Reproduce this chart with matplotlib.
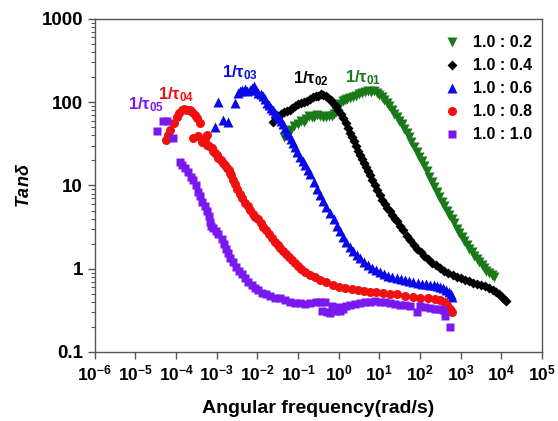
import matplotlib.pyplot as plt
import numpy as np

plt.rcParams['font.family'] = ['Liberation Sans', 'DejaVu Sans']
plt.rcParams['font.weight'] = 'bold'
plt.rcParams['mathtext.fontset'] = 'custom'
plt.rcParams['mathtext.rm'] = 'Liberation Sans:bold'
plt.rcParams['mathtext.bf'] = 'Liberation Sans:bold'
plt.rcParams['mathtext.it'] = 'Liberation Sans:bold:italic'

# 1.0 : 0.2
w1 = [0.045, 0.055, 0.068, 0.08, 0.10, 0.12, 0.14, 0.16, 0.19, 0.22, 0.25, 0.30, 0.35, 0.42,
      0.49, 0.58, 0.69, 0.78, 0.87, 0.97, 1.07, 1.25, 1.44, 1.65, 1.91, 2.3, 2.7, 3.2, 3.8,
      4.5, 5.3, 6.3, 7.4, 8.6, 10, 11.5, 13.2, 15.2, 17.4, 20, 23, 27, 31, 36, 41, 47, 54,
      62, 72, 83, 96, 110, 127, 146, 169, 195, 224, 258, 296, 342, 395, 455, 525, 605, 695,
      800, 925, 1070, 1230, 1420, 1630, 1880, 2150, 2500, 2870, 3300, 3800, 4350, 5000,
      5800, 6700]
t1 = [38, 42, 46, 52, 55, 60, 58, 63, 69, 66, 67, 70, 69, 66,
      67, 68, 69, 73, 77, 88, 95, 102, 107, 110, 113, 116, 119, 125, 129,
      134, 137, 133, 137, 128, 122, 114, 107, 98, 90, 80, 72, 66, 60, 54, 48, 43, 38,
      33, 29, 25, 22, 19.5, 17.2, 14.8, 12.7, 11, 9.6, 8.3, 7.3, 6.4, 5.7, 5.0, 4.4, 3.9, 3.5,
      3.0, 2.7, 2.4, 2.16, 1.93, 1.73, 1.57, 1.43, 1.31, 1.21, 1.11, 1.03, 0.95, 0.89,
      0.84, 0.80]

# 1.0 : 0.4
w2 = [0.024, 0.028, 0.032, 0.038, 0.045, 0.053, 0.063, 0.073, 0.085, 0.10, 0.118, 0.14,
      0.166, 0.195, 0.23, 0.27, 0.31, 0.36, 0.41, 0.48, 0.55, 0.64, 0.73, 0.85, 0.98, 1.13,
      1.29, 1.5, 1.71, 1.9, 2.1, 2.4, 2.7, 3.0, 3.4, 3.8, 4.2, 4.7, 5.3, 5.9, 6.6, 7.7, 8.9,
      10.2, 11.8, 13.6, 15.6, 18, 20.7, 24, 27.5, 33, 39, 48, 58, 70, 86, 105, 127, 160, 199,
      250, 313, 390, 492, 640, 825, 1030, 1300, 1630, 2040, 2550, 3200, 4000, 5000, 6200,
      7600, 9000, 10500, 12000, 13200]
t2 = [58, 64, 69, 73, 77, 79, 81, 86, 90, 94, 98, 101,
      104, 110, 116, 118, 119, 124, 122, 118, 113, 106, 98, 89, 81, 72,
      65, 56, 49, 43, 38, 34, 30, 26, 23, 21, 18.7, 16.8, 15, 13.2, 11.7, 10.2, 8.9,
      7.7, 6.7, 6.0, 5.4, 4.9, 4.4, 4.0, 3.7, 3.3, 2.9, 2.5, 2.2, 1.95, 1.73, 1.57, 1.43, 1.30, 1.18,
      1.10, 1.03, 0.95, 0.89, 0.84, 0.80, 0.77, 0.74, 0.71, 0.68, 0.66, 0.64, 0.62, 0.59, 0.56,
      0.53, 0.49, 0.46, 0.43, 0.41]

# 1.0 : 0.6
w3 = [9.1e-4, 1.07e-3, 1.42e-3, 1.9e-3, 2.8e-3, 3.3e-3, 3.7e-3, 4.3e-3, 4.9e-3, 5.7e-3,
      6.6e-3, 7.4e-3, 8.3e-3, 9.2e-3, 0.0103, 0.012, 0.0138, 0.0155, 0.0174, 0.0195, 0.0215,
      0.024, 0.027, 0.030, 0.034, 0.038, 0.043, 0.048, 0.053, 0.06, 0.067, 0.075, 0.085,
      0.097, 0.11, 0.13, 0.15, 0.175, 0.20, 0.25, 0.30, 0.35, 0.41, 0.5, 0.62, 0.75, 0.92,
      1.1, 1.29, 1.55, 1.91, 2.3, 2.8, 3.4, 4.2, 5.3, 6.6, 8.3, 10.5, 13, 16.5, 21, 27.5, 34,
      43, 54, 68, 88, 113, 140, 178, 220, 265, 315, 372, 450, 525, 580, 620]
t3 = [50, 101, 61, 58, 98, 130, 137, 140, 145, 138,
      141, 150, 157, 140, 129, 125, 119, 108, 98, 92, 86,
      80, 74, 70, 65, 60, 55, 49, 44, 40, 36, 32, 29,
      25, 22, 19.5, 17.7, 15.5, 13.8, 11, 9.1, 7.7, 6.5, 5.5, 4.7, 3.9, 3.3,
      2.8, 2.4, 2.1, 1.83, 1.63, 1.47, 1.33, 1.21, 1.11, 1.03, 0.97, 0.92, 0.87, 0.82, 0.80,
      0.78, 0.76, 0.74, 0.72, 0.70, 0.68, 0.66, 0.65, 0.64, 0.63, 0.62, 0.61, 0.59, 0.56,
      0.53, 0.50, 0.46]

# 1.0 : 0.8
w4 = [5.6e-5, 6.3e-5, 7.1e-5, 8.7e-5, 1.05e-4, 1.2e-4, 1.39e-4, 1.6e-4, 1.85e-4, 2.15e-4,
      2.5e-4, 2.9e-4, 3.3e-4, 3.9e-4, 2.6e-4, 3.4e-4, 5.8e-4, 4.3e-4, 5.0e-4, 5.8e-4, 6.6e-4,
      7.6e-4, 8.3e-4, 9.1e-4, 1.0e-3, 1.07e-3, 1.25e-3, 1.42e-3, 1.6e-3, 1.78e-3, 1.95e-3,
      2.1e-3, 2.3e-3, 2.5e-3, 2.8e-3, 3.2e-3, 3.7e-3, 4.3e-3, 5.0e-3, 5.8e-3, 6.6e-3, 7.6e-3,
      8.9e-3, 0.0103, 0.012, 0.014, 0.016, 0.019, 0.023, 0.027, 0.032, 0.037, 0.042, 0.05,
      0.06, 0.071, 0.085, 0.10, 0.12, 0.15, 0.20, 0.26, 0.35, 0.5, 0.73, 1.0, 1.44, 2.1, 3.0,
      4.2, 5.9, 8.5, 12.3, 18, 27, 42, 68, 100, 158, 230, 316, 400, 470, 550, 620]
t4 = [35, 40, 46, 56, 67, 75, 81, 82, 81, 80,
      77, 71, 65, 56, 37, 39, 40, 33, 36, 31, 30,
      28, 26, 24.6, 23, 21.4, 20, 18.7, 17.4, 16.3, 15.2,
      14.2, 13.2, 11.5, 10.3, 9.1, 7.9, 7.0, 6.2, 5.6, 5.1, 4.6,
      4.2, 3.9, 3.5, 3.2, 2.9, 2.6, 2.35, 2.1, 1.9, 1.75, 1.64, 1.5,
      1.38, 1.28, 1.17, 1.08, 1.0, 0.92, 0.85, 0.79, 0.74, 0.69, 0.64, 0.61, 0.59, 0.57, 0.56,
      0.54, 0.53, 0.52, 0.51, 0.50, 0.49, 0.475, 0.46, 0.45, 0.44, 0.43, 0.42, 0.40, 0.37, 0.33, 0.30]

# 1.0 : 1.0
w5 = [3.4e-5, 4.7e-5, 5.9e-5, 8.3e-5, 1.23e-4, 1.38e-4, 1.65e-4, 1.95e-4, 2.3e-4, 2.6e-4,
      3.0e-4, 3.4e-4, 3.8e-4, 4.3e-4, 5.0e-4, 5.8e-4, 6.3e-4, 6.8e-4, 7.4e-4, 8.1e-4, 9.6e-4,
      1.1e-3, 1.35e-3, 1.5e-3, 1.7e-3, 1.9e-3, 2.1e-3, 2.5e-3, 3.0e-3, 3.5e-3, 4.2e-3, 5.0e-3,
      5.9e-3, 7.2e-3, 8.7e-3, 0.0105, 0.013, 0.016, 0.020, 0.027, 0.036, 0.048, 0.063, 0.085,
      0.11, 0.15, 0.2, 0.27, 0.35, 0.40, 0.45, 0.52, 0.62, 0.7, 0.85, 1.0, 1.07, 1.25, 1.5,
      1.9, 2.5, 3.4, 4.5, 5.9, 8, 10.5, 14, 18.6, 25, 32, 43, 58, 85, 100, 135, 180, 235, 300,
      372, 417, 550]
t5 = [45, 60, 60, 37, 19.2, 17.7, 16, 14.5, 12.8, 11.7,
      10, 8.4, 7.4, 6.4, 5.6, 5.0, 4.3, 3.6, 3.3, 3.1, 2.85,
      2.6, 2.3, 2.0, 1.73, 1.53, 1.35, 1.2, 1.05, 0.95, 0.87, 0.78,
      0.70, 0.64, 0.59, 0.55, 0.51, 0.49, 0.47, 0.45, 0.44, 0.42, 0.40, 0.39,
      0.39, 0.38, 0.39, 0.40, 0.40, 0.31, 0.40, 0.30, 0.29, 0.36, 0.31, 0.35, 0.31, 0.33, 0.36,
      0.37, 0.38, 0.39, 0.40, 0.40, 0.41, 0.40, 0.40, 0.39, 0.38, 0.37, 0.37, 0.36, 0.30, 0.36,
      0.35, 0.34, 0.33, 0.33, 0.32, 0.27, 0.20]

fig = plt.figure(figsize=(5.58, 4.21), dpi=100)
ax = fig.add_axes([0.170, 0.164, 0.801, 0.791])

ax.plot(w1, t1, 'v', color='#1a7a1a', ms=7.5, mec='none', label='1.0 : 0.2')
ax.plot(w2, t2, 'D', color='black', ms=5.5, mec='none', label='1.0 : 0.4')
ax.plot(w3, t3, '^', color='#0a0ae6', ms=7.5, mec='none', label='1.0 : 0.6')
ax.plot(w4, t4, 'o', color='#f01010', ms=6.5, mec='none', label='1.0 : 0.8')
ax.plot(w5, t5, 's', color='#7a18f0', ms=6, mec='none', label='1.0 : 1.0')

ax.set_xscale('log')
ax.set_yscale('log')
ax.set_xlim(1e-6, 1e5)
ax.set_ylim(0.1, 1000)

xt = [10.0**k for k in range(-6, 6)]
ax.set_xticks(xt)
ax.set_xticklabels([r'10$^{%d}$' % k for k in range(-6, 6)])
ax.set_yticks([0.1, 1, 10, 100, 1000])
ax.set_yticklabels(['0.1', '1', '10', '100', '1000'])
ax.tick_params(which='major', direction='out', length=5, width=1, color='#555555')
ax.tick_params(axis='x', which='major', labelsize=12.5)
ax.tick_params(axis='y', which='major', labelsize=13.5)
ax.tick_params(which='minor', direction='out', length=3, width=0.8, color='#555555')
for s in ax.spines.values():
    s.set_color('#555555')
    s.set_linewidth(1)

ax.set_xlabel('Angular frequency(rad/s)', fontsize=14, fontweight='bold', labelpad=12)
ax.set_ylabel(r'Tan$\delta$', fontsize=13, fontweight='bold', style='italic', labelpad=6)

ax.text(6.5e-6, 82, '1/τ$_{05}$', color='#7a18f0', fontsize=12)
ax.text(3.6e-5, 107, '1/τ$_{04}$', color='#f01010', fontsize=12)
ax.text(1.35e-3, 200, '1/τ$_{03}$', color='#0a0ae6', fontsize=12)
ax.text(0.076, 170, '1/τ$_{02}$', color='black', fontsize=12)
ax.text(1.44, 175, '1/τ$_{01}$', color='#1a7a1a', fontsize=12)

ax.legend(loc='upper right', bbox_to_anchor=(1.0, 0.98), frameon=False, fontsize=11.5,
          handletextpad=0.5, labelspacing=0.5, borderaxespad=0.2, handlelength=1.6)

fig.savefig('out.png', dpi=100)
